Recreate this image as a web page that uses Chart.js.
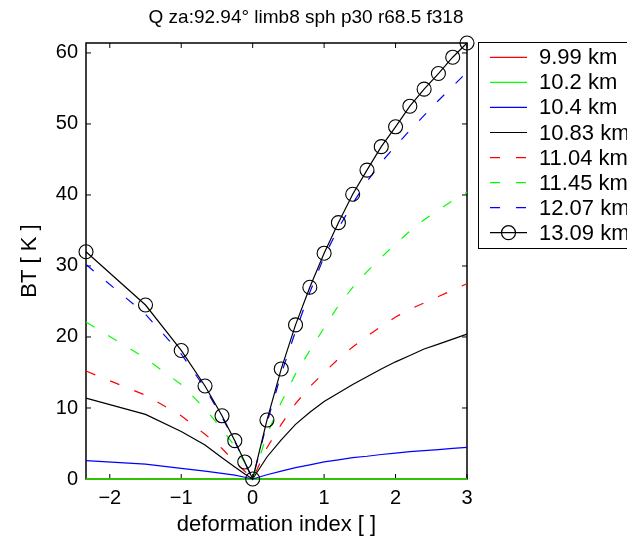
<!DOCTYPE html>
<html>
<head>
<meta charset="UTF-8">
<title>BT vs deformation index</title>
<script src="https://cdn.jsdelivr.net/npm/chart.js"></script>
<style>body{margin:0;background:#fff}</style>
</head>
<body>
<div style="width:627px;height:540px;"><canvas id="chart"></canvas></div>
<script>
const xValues = [-2.333, -1.5, -1, -0.667, -0.429, -0.25, -0.111, 0, 0.2, 0.4, 0.6, 0.8, 1, 1.2, 1.4, 1.6, 1.8, 2, 2.2, 2.4, 2.6, 2.8, 3];

const km999  = [0, 0, 0, 0, 0, 0, 0, 0, 0, 0, 0, 0, 0, 0, 0, 0, 0, 0, 0, 0, 0, 0, 0];
const km1020 = [0, 0, 0, 0, 0, 0, 0, 0, 0, 0, 0, 0, 0, 0, 0, 0, 0, 0, 0, 0, 0, 0, 0];
const km1040 = [2.6, 2.1, 1.5, 1.1, 0.8, 0.55, 0.25, 0, 0.6, 1.1, 1.6, 2.0, 2.4, 2.7, 3.0, 3.2, 3.45, 3.65, 3.85, 4.0, 4.15, 4.3, 4.45];
const km1083 = [11.4, 9.1, 6.7, 4.8, 3.0, 1.7, 0.7, 0, 3.1, 5.5, 7.7, 9.4, 10.9, 12.1, 13.3, 14.4, 15.5, 16.5, 17.4, 18.3, 19.0, 19.7, 20.4];
const km1104 = [15.2, 11.8, 8.9, 6.3, 4.3, 2.4, 1.1, 0, 4.4, 7.7, 10.6, 13.0, 15.0, 16.9, 18.6, 20.1, 21.5, 22.8, 23.9, 24.8, 25.7, 26.6, 27.5];
const km1145 = [22.1, 17.0, 13.3, 9.9, 7.0, 4.6, 2.3, 0, 6.3, 10.8, 14.8, 18.1, 21.3, 24.4, 27.0, 29.2, 31.2, 33.1, 34.9, 36.5, 37.9, 39.2, 40.4];
const km1207 = [30.2, 23.2, 17.6, 12.8, 8.7, 5.3, 2.3, 0, 7.9, 14.8, 20.8, 26.3, 31.3, 35.3, 38.8, 41.9, 44.6, 46.9, 49.1, 51.2, 53.3, 55.3, 57.3];
const km1309 = [32.0, 24.5, 18.1, 13.1, 8.9, 5.4, 2.4, 0, 8.3, 15.5, 21.7, 27.0, 31.8, 36.1, 40.1, 43.5, 46.8, 49.6, 52.5, 54.9, 57.1, 59.4, 61.4];

const labels = ['9.99 km', '10.2 km', '10.4 km', '10.83 km', '11.04 km', '11.45 km', '12.07 km', '13.09 km'];
const series = [km999, km1020, km1040, km1083, km1104, km1145, km1207, km1309];
const xTicks = [-2, -1, 0, 1, 2, 3];
const yTicks = [0, 10, 20, 30, 40, 50, 60];

const colors = ['#ff0000', '#00ff00', '#0000ff', '#000000', '#ff0000', '#00ff00', '#0000ff', '#000000'];
const dashes = [[], [], [], [], [10, 16], [10, 16], [10, 16], []];
const FONT = "'Liberation Sans', Arial, Helvetica, sans-serif";

const datasets = labels.map((lab, i) => ({
  label: lab,
  data: xValues.map((x, j) => ({ x: x, y: series[i][j] })),
  borderColor: colors[i],
  borderWidth: i < 2 ? 1.6 : 1.2,
  borderDash: dashes[i],
  showLine: true,
  tension: 0,
  fill: false,
  clip: false,
  pointRadius: i === 7 ? 7 : 0,
  pointHoverRadius: i === 7 ? 7 : 0,
  pointBorderColor: '#000',
  pointBackgroundColor: 'rgba(0,0,0,0)',
  pointBorderWidth: 1.1,
  order: labels.length - i
}));

// matlab style box, inner ticks, title and legend
const matlabLook = {
  id: 'matlabLook',
  beforeDatasetsDraw(chart) {
    const { ctx, chartArea: a, scales } = chart;
    ctx.save();
    ctx.strokeStyle = '#000';
    ctx.lineWidth = 1;
    ctx.beginPath();
    xTicks.forEach(v => {
      const p = scales.x.getPixelForValue(v);
      ctx.moveTo(p, a.bottom); ctx.lineTo(p, a.bottom - 5);
      ctx.moveTo(p, a.top); ctx.lineTo(p, a.top + 5);
    });
    yTicks.forEach(v => {
      const p = scales.y.getPixelForValue(v);
      ctx.moveTo(a.left, p); ctx.lineTo(a.left + 5, p);
      ctx.moveTo(a.right, p); ctx.lineTo(a.right - 5, p);
    });
    ctx.stroke();
    ctx.lineWidth = 1.5;
    ctx.strokeRect(a.left, a.top, a.right - a.left, a.bottom - a.top);
    ctx.restore();
  },
  afterDraw(chart) {
    const { ctx } = chart;
    ctx.save();
    ctx.fillStyle = '#000';
    ctx.font = '19px ' + FONT;
    ctx.textAlign = 'center';
    ctx.textBaseline = 'middle';
    ctx.fillText('Q za:92.94\u00b0 limb8 sph p30 r68.5 f318', 306, 18);

    // legend box
    ctx.strokeStyle = '#000';
    ctx.lineWidth = 1;
    ctx.fillStyle = '#fff';
    ctx.fillRect(478.5, 42.5, 200, 206);
    ctx.strokeRect(478.5, 42.5, 200, 206);
    ctx.font = '22px ' + FONT;
    ctx.textAlign = 'left';
    labels.forEach((lab, i) => {
      const y = 57.3 + i * 25.06;
      ctx.beginPath();
      ctx.strokeStyle = colors[i];
      ctx.lineWidth = 1.2;
      ctx.setLineDash(dashes[i]);
      ctx.moveTo(490, y); ctx.lineTo(527, y);
      ctx.stroke();
      ctx.setLineDash([]);
      if (i === 7) {
        ctx.beginPath();
        ctx.strokeStyle = '#000';
        ctx.arc(508.5, y, 7, 0, Math.PI * 2);
        ctx.stroke();
      }
      ctx.fillStyle = '#000';
      ctx.fillText(lab, 539, y + 1);
    });
    ctx.restore();
  }
};

new Chart(document.getElementById('chart'), {
  type: 'scatter',
  data: { datasets: datasets },
  options: {
    responsive: true,
    maintainAspectRatio: false,
    animation: false,
    layout: { padding: { top: 43, right: 160, left: 0, bottom: 0 } },
    plugins: {
      legend: { display: false },
      title: { display: false },
      tooltip: { enabled: false }
    },
    scales: {
      x: {
        type: 'linear',
        min: -2.333,
        max: 3,
        afterFit: s => { s.height = 61; },
        afterBuildTicks: s => { s.ticks = xTicks.map(v => ({ value: v })); },
        grid: { display: false, drawTicks: false },
        border: { display: false },
        ticks: {
          padding: 7,
          maxRotation: 0,
          autoSkip: false,
          color: '#000',
          font: { family: FONT, size: 20 },
          callback: v => String(v).replace('-', '\u2212')
        },
        title: {
          display: true,
          text: 'deformation index [ ]',
          color: '#000',
          font: { family: FONT, size: 22 },
          padding: { top: 0, bottom: 2 }
        }
      },
      y: {
        type: 'linear',
        min: 0,
        max: 61.4,
        afterFit: s => { s.width = 86; },
        afterBuildTicks: s => { s.ticks = yTicks.map(v => ({ value: v })); },
        grid: { display: false, drawTicks: false },
        border: { display: false },
        ticks: {
          padding: 8,
          autoSkip: false,
          color: '#000',
          font: { family: FONT, size: 20 }
        },
        title: {
          display: true,
          text: 'BT [ K ]',
          color: '#000',
          font: { family: FONT, size: 22 },
          padding: { top: 17, bottom: 0 }
        }
      }
    }
  },
  plugins: [matlabLook]
});
</script>
</body>
</html>
